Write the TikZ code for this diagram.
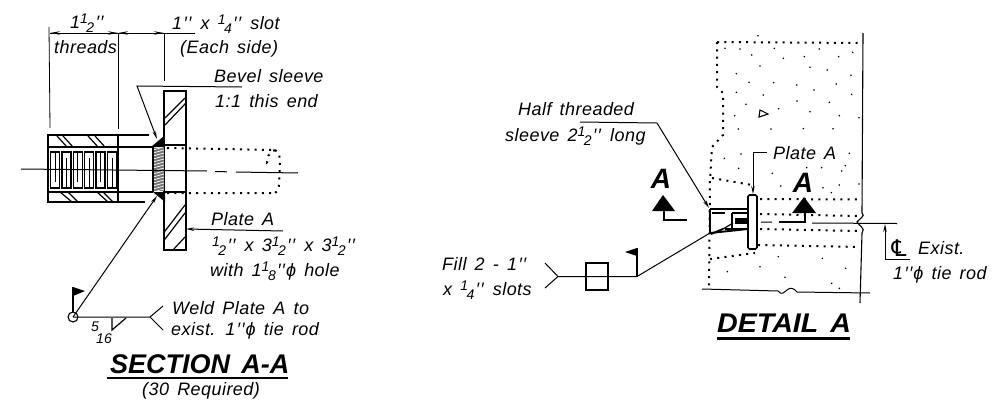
\documentclass[tikz,border=0pt]{standalone}
\usepackage{fontspec}
\usetikzlibrary{arrows.meta,calc}
\setmainfont{Liberation Sans}[WordSpace=1.5,LetterSpace=2.5]
\newfontfamily\titlefont{Liberation Sans}[WordSpace=1.5]
\newfontfamily\clfont{DejaVu Sans}
\newcommand{\fr}[2]{\raisebox{5pt}{\fontsize{14}{14}\selectfont #1}\kern-1.5pt\raisebox{-4pt}{\fontsize{14}{14}\selectfont #2}}
\newcommand{\pp}{\kern1.5pt′\kern1pt′\kern1pt}
\tikzset{
  lbl/.style={inner sep=0pt,anchor=west,font=\fontsize{18}{20}\selectfont\itshape},
  ttl/.style={inner sep=0pt,anchor=west,font=\fontsize{27}{30}\selectfont\titlefont\bfseries\itshape},
  big/.style={inner sep=0pt,font=\fontsize{28}{30}\selectfont\titlefont\bfseries\itshape},
  thin/.style={line width=0.8pt,black},
  med/.style={line width=1.2pt,black},
  thick/.style={line width=1.9pt,black},
  tip/.style={-{Stealth[length=8pt,width=3.5pt]}},
  dots/.style={line width=2pt,black,dash pattern=on 2pt off 5.3pt},
  speck/.style={fill=black,draw=none},
}
\begin{document}
\begin{tikzpicture}[x=1pt,y=-1pt]
\useasboundingbox (0,0) rectangle (996,402);
% ---------- SECTION A-A ----------
\coordinate (e1) at (50,128); \coordinate (e2) at (118,129); \coordinate (e3) at (164,81);
\coordinate (t1) at (50,33); \coordinate (t2) at (118,33); \coordinate (t3) at (164,33);
\draw[thin] (49,27)--(e1);
\draw[thin] (t2)--(e2);
\draw[thin] (t3)--(e3);
\draw[thin] (t1)--(195,33);
\draw[thin,{Stealth[length=10pt,width=3.5pt]}-{Stealth[length=10pt,width=3.5pt]}] (t1)--(t2);
\draw[thin,{Stealth[length=10pt,width=3.5pt]}-{Stealth[length=10pt,width=3.5pt]}] (t2)--(t3);
% plate
\draw[thick] (164,91) rectangle (186,250);
\draw[med] (164,145)--(186,145) (164,192)--(186,192);
\draw[med] (165,118)--(185,98) (165,125)--(186,103);
\draw[med] (163.5,233)--(185,205) (163.5,241)--(185,213) (173,250)--(185,237);
% sleeve
\draw[thick] (149,135)--(48,135)--(48,202)--(145,202);
\draw[thick] (48,147)--(153,147) (48,192)--(153,192);
\draw[thick] (118,135)--(118,202);
\foreach \a/\b in {57/67,63/73,88/98,95/105}{\draw[med] (\a,136)--(\b,147);}
\foreach \a/\b in {60/72,68/78,97/108,103/113}{\draw[med] (\a,192)--(\b,202);}
% threads
\foreach \i in {0,...,5}{
  \draw[line width=1.4pt] ({50.5+11.4*\i},152) rectangle ({59.5+11.4*\i},188);
  \draw[line width=1pt] ({55+11.4*\i},{mod(\i,2)==0 ? 152 : 158}) -- ({55+11.4*\i},{mod(\i,2)==0 ? 182 : 188});
}
% weld zone
\fill[black!55] (153,148) rectangle (164,191);
\foreach \k in {0,...,14}{\draw[white,line width=0.7pt] (153,{150+3*\k})--(164,{147+3*\k});}
\draw[thick] (153,147)--(153,192);
\fill[black] (151,147)--(164,147)--(164,136)--cycle;
\fill[black] (153,192)--(165,192)--(165,202)--cycle;
% centre line
\draw[thin,line width=1pt] (21,169)--(207,171) (215,171.5)--(227,171.8) (236,172)--(298,173);
% dotted rod
\draw[dots] (167,148)--(275,150) (167,193)--(275,193);
\draw[dots] (275,150)..controls (279,152) and (280,156)..(280,163)--(279,184)..controls (279,188) and (278,191)..(275,193);
\draw[dots] (275,150)..controls (268,153) and (267,158)..(267,163)--(272,163);
% leaders
\coordinate (bv1) at (242,87); \coordinate (bv2) at (137,86); \coordinate (bv3) at (157,139);
\draw[thin,tip,line width=1pt] (bv1)--(bv2)--(bv3);
\coordinate (wc) at (73,317); \coordinate (wt) at (157,196); \coordinate (wf) at (150,317);
\draw[line width=1pt,tip] (wc)--(wt);
\draw[line width=1.1pt] (wc) circle (5);
\draw[thin,line width=1pt] (wc)--(wf)--(163,306) (wf)--(163,330);
\draw[med] (73,312)--(73,287);
\fill[black] (73,287)--(85,291)--(73,296)--cycle;
\draw[med] (112,318)--(112,330)--(126,318);
\coordinate (pa1) at (283,231); \coordinate (pa2) at (186,229);
\draw[thin,line width=1pt,tip] (pa1)--(pa2);
\node[lbl] (n1) at (70,23) {1\fr12\pp};
\node[lbl] (n2) at (54,47) {threads};
\node[lbl] (n3) at (172,24) {1\pp\ x \fr14\pp\ slot};
\node[lbl] (n4) at (180,49) {(Each side)};
\node[lbl] (n5) at (214,76) {Bevel sleeve};
\node[lbl] (n6) at (215,101) {1:1 this end};
\node[lbl] (n7) at (211,219) {Plate A};
\node[lbl] (n8) at (212,246) {\fr12\pp\ x 3\fr12\pp\ x 3\fr12\pp};
\node[lbl] (n9) at (210,271) {with 1\fr18\pp ϕ hole};
\node[lbl] (n10) at (172,308) {Weld Plate A to};
\node[lbl] (n11) at (171,331) {exist. 1\pp ϕ tie rod};
\node[inner sep=0pt,font=\fontsize{14}{14}\selectfont\itshape] (n12) at (95,327) {5};
\node[inner sep=0pt,font=\fontsize{14}{14}\selectfont\itshape] (n13) at (104,339) {16};
\node[ttl] (n14) at (110,364) {SECTION A-A};
\draw[line width=2.6pt] (107,378)--(288,378);
\node[lbl] (n15) at (142,391) {(30 Required)};
% ---------- DETAIL A ----------
\draw[dots] (717,42)--(863,43);
\draw[dots] (717,42)--(717,87)--(723,93)--(723,135)--(712,147)--(710,180)--(709,289);
\draw[dots] (712,178)--(752,185);
\draw[dots] (710,259)--(755,253);
\draw[dots] (760,199)--(862,199.5);
\draw[dots] (760,214)--(857,216);
\draw[dots] (760,229)--(857,231);
\draw[dots] (758,245)--(860,247);
\foreach \x/\y in {195/145,240/147,275/165,343/145,370/175,433/170,478/147,536/170,578/157,300/198,450/202,502/210,229/221,573/226,267/247,341/248,410/255,462/270,529/252,229/277,310/285,575/283,258/313,411/303,508/307,356/326,224/347,450/335,538/347,597/353,235/387,333/387,430/386,519/386,193/475,243/462,568/460,236/505,440/503,485/503,556/497,545/513,337/520,538/555,597/552,362/558,489/563,514/578,294/107}{
  \fill[speck] ({660+\x/3},{\y/3}) circle (0.9);}
\foreach \x/\y in {355/200,487/205,300/230,202/245,557/235,375/262,515/280,538/295}{
  \fill[speck] ({660+\x/3},{190+\y/3}) circle (0.9);}
\draw[line width=1.1pt] (760,110)--(768,114)--(759,117)--cycle;
% right break line and bottom line
\draw[line width=1.1pt] (863,33)--(862,213)..controls (866,216) and (859,219)..(857,222)..controls (859,226) and (866,228)..(862,233)--(860,303);
\draw[line width=1pt] (702,289)--(778,291)..controls (782,296) and (784,292)..(787,290)..controls (790,287) and (794,288)..(797,292)--(870,293);
% plate and sleeve
\draw[line width=1.7pt,rounded corners=1.5pt,fill=white] (748,195) rectangle (757,249);
\draw[thick] (710,209)--(748,209) (710,233)--(748,229) (710,209)--(710,233);
\draw[med] (712,213)--(725,213) (732,213)--(748,213) (732,213)--(732,229) (725,229)--(748,229);
\fill[black] (735,218) rectangle (748,224);
\draw[thick] (711,234)--(723,229) ;
\draw[med] (723,229)--(733,223);
% A markers
\node[big] (A1) at (661,179) {A};
\fill[black] (663,195)--(652,211)--(675,211)--cycle;
\draw[line width=2.2pt] (664,211)--(664,220)--(687,220);
\node[big] (A2) at (803,183) {A};
\fill[black] (804,197)--(792,213)--(816,213)--cycle;
\draw[line width=2.2pt] (805,213)--(805,222)--(779,222);
% centre line
\draw[thin,line width=1pt] (761,222)--(772,222) (812,223)--(897,223.5);
% leaders
\coordinate (h1) at (580,122); \coordinate (h2) at (657,123); \coordinate (h3) at (709,208);
\draw[line width=1pt,tip] (h1)--(h2)--(h3);
\coordinate (pl1) at (767,152); \coordinate (pl2) at (753,152); \coordinate (pl3) at (753,194);
\draw[line width=1pt,tip] (pl1)--(pl2)--(pl3);
\coordinate (cl1) at (910,259); \coordinate (cl2) at (885,259); \coordinate (cl3) at (885,224);
\draw[line width=1pt,tip] (cl1)--(cl2)--(cl3);
% fill weld symbol
\coordinate (f0) at (710,233); \coordinate (f1) at (637,276.5); \coordinate (f2) at (558,276.5);
\draw[line width=1pt] (f0)--(f1)--(f2)--(545,263) (f2)--(545,288);
\draw[med] (586,263) rectangle (608,290);
\draw[med] (f1)--(637,248);
\fill[black] (637,248)--(625,252)--(637,256)--cycle;
\node[lbl] (r1) at (518,109) {Half threaded};
\node[lbl] (r2) at (505,136) {sleeve 2\fr12\pp\ long};
\node[lbl] (r3) at (773,153) {Plate A};
\node[lbl] (r4) at (442,264) {Fill 2 - 1\pp};
\node[lbl] (r5) at (443,290) {x \fr14\pp\ slots};
\node[inner sep=0pt,font=\fontsize{23}{23}\selectfont\clfont\itshape] (r6a) at (899,248) {℄};
\node[lbl] (r6) at (918,248) {Exist.};
\node[lbl] (r7) at (893,275) {1\pp ϕ tie rod};
\node[ttl] (r8) at (717,323) {\scalebox{1.06}[1]{DETAIL A}};
\draw[line width=2.8pt] (717,338.5)--(850,338.5);
\end{tikzpicture}
\end{document}
